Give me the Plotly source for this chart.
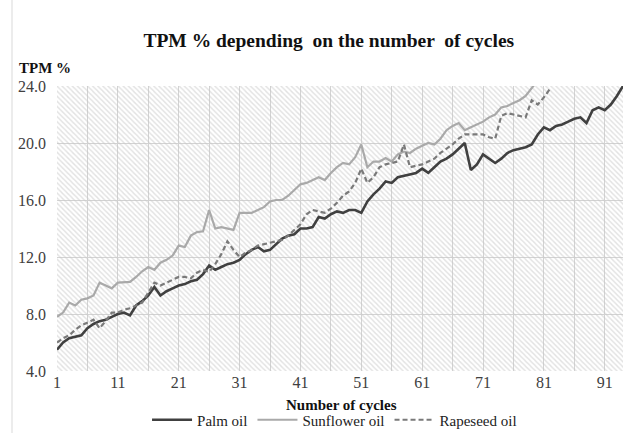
import plotly.graph_objects as go

cycles = list(range(1, 95))

palm_oil = [5.5, 6.0, 6.3, 6.4, 6.5, 7.0, 7.3, 7.5, 7.6, 7.8,
            8.0, 8.1, 7.9, 8.6, 8.9, 9.3, 9.9, 9.3, 9.6, 9.8,
            10.0, 10.1, 10.3, 10.4, 10.8, 11.4, 11.1, 11.3, 11.5, 11.6,
            11.8, 12.2, 12.5, 12.7, 12.4, 12.5, 12.9, 13.3, 13.5, 13.6,
            14.0, 14.0, 14.1, 14.8, 14.7, 15.0, 15.2, 15.1, 15.3, 15.3,
            15.1, 15.9, 16.4, 16.8, 17.3, 17.2, 17.6, 17.7, 17.8, 17.9,
            18.2, 17.9, 18.3, 18.7, 18.9, 19.2, 19.6, 20.0, 18.1, 18.5,
            19.2, 18.9, 18.6, 18.9, 19.3, 19.5, 19.6, 19.7, 19.9, 20.6,
            21.1, 20.9, 21.2, 21.3, 21.5, 21.7, 21.8, 21.4, 22.3, 22.5,
            22.3, 22.7, 23.3, 24.0]

sunflower_oil = [7.8, 8.1, 8.8, 8.6, 9.0, 9.1, 9.3, 10.2, 10.0, 9.8,
                 10.2, 10.2, 10.25, 10.6, 11.0, 11.3, 11.1, 11.6, 11.8, 12.1,
                 12.8, 12.7, 13.5, 13.75, 13.8, 15.3, 14.0, 14.1, 14.0, 13.9,
                 15.1, 15.1, 15.1, 15.3, 15.5, 15.9, 16.0, 16.0, 16.3, 16.7,
                 17.1, 17.2, 17.4, 17.6, 17.4, 17.9, 18.3, 18.6, 18.5, 19.0,
                 19.9, 18.3, 18.7, 18.7, 18.95, 18.7, 19.2, 19.4, 19.3, 19.6,
                 19.8, 20.0, 19.9, 20.3, 20.9, 21.2, 21.4, 20.9, 21.1, 21.3,
                 21.5, 21.8, 22.0, 22.5, 22.6, 22.8, 23.0, 23.3, 23.9, 24.4]

rapeseed_oil = [6.0, 6.3, 6.5, 6.9, 7.2, 7.4, 7.6, 7.0, 7.5, 8.1,
                8.1, 8.3, 8.4, 8.6, 8.8, 9.5, 10.2, 10.0, 10.2, 10.4,
                10.6, 10.6, 10.5, 10.9, 11.1, 10.95, 11.5, 12.2, 13.1, 12.5,
                12.0, 12.3, 12.5, 12.8, 12.9, 13.05, 13.1, 13.2, 13.5, 13.9,
                14.3, 15.0, 15.3, 15.2, 15.1, 15.4, 15.8, 16.3, 16.6, 17.2,
                18.2, 17.2, 17.6, 18.3, 18.5, 18.6, 18.7, 19.9, 18.3, 18.4,
                18.5, 18.7, 18.9, 19.3, 19.6, 19.9, 20.3, 20.6, 20.6, 20.6,
                20.6, 20.4, 20.3, 21.9, 22.1, 22.0, 21.9, 21.8, 23.0, 22.7,
                23.2, 23.8]

x_tick_vals = list(range(1, 95, 10))
y_tick_vals = [4, 8, 12, 16, 20, 24]

X_MIN, X_MAX = 1, 94
Y_MIN, Y_MAX = 4, 24

SERIF = "Liberation Serif, Times New Roman, serif"

fig = go.Figure()

# hatched plot background (transparent between stripes so gridlines show)
fig.add_trace(go.Scatter(
    x=[X_MIN, X_MAX, X_MAX, X_MIN, X_MIN],
    y=[Y_MIN, Y_MIN, Y_MAX, Y_MAX, Y_MIN],
    mode="lines", line=dict(width=0), fill="toself",
    fillcolor="rgba(0,0,0,0)",
    fillpattern=dict(shape="\\", fgcolor="#c6c6c6", bgcolor="rgba(255,255,255,0)",
                     size=3.6, solidity=0.38),
    hoverinfo="skip", showlegend=False,
))

fig.add_trace(go.Scatter(x=cycles[:len(palm_oil)], y=palm_oil, mode="lines", name="Palm oil",
                         line=dict(color="#404040", width=2.6)))
fig.add_trace(go.Scatter(x=cycles[:len(sunflower_oil)], y=sunflower_oil, mode="lines", name="Sunflower oil",
                         line=dict(color="#a9a9a9", width=2.2)))
fig.add_trace(go.Scatter(x=cycles[:len(rapeseed_oil)], y=rapeseed_oil, mode="lines", name="Rapeseed oil",
                         line=dict(color="#7a7a7a", width=2.2, dash="5px,3px")))

fig.update_layout(
    width=636, height=433,
    margin=dict(l=57, r=13, t=86, b=62),
    paper_bgcolor="white", plot_bgcolor="white",
    font=dict(family=SERIF, size=16, color="#404040"),
    title=dict(text="<b>TPM % depending  on the number  of cycles</b>",
               x=0.517, xanchor="center", y=1 - 40 / 433, yanchor="middle", yref="container",
               font=dict(family=SERIF, size=19.5, color="#111111")),
    showlegend=True,
    legend=dict(orientation="h", x=0.526, xanchor="center", xref="container",
                y=1 - 420 / 433, yanchor="middle", yref="container",
                font=dict(family=SERIF, size=15, color="#222222"),
                bgcolor="rgba(0,0,0,0)", itemwidth=40, tracegroupgap=0),
    xaxis=dict(range=[X_MIN, X_MAX], tickmode="array", tickvals=x_tick_vals,
               ticks="", showgrid=True, gridcolor="#d3d3d3", gridwidth=1, automargin=False,
               minor=dict(tick0=1, dtick=5, showgrid=True, gridcolor="#d3d3d3", gridwidth=1, ticks=""),
               zeroline=False, showline=False,
               tickfont=dict(family=SERIF, size=16, color="#404040")),
    yaxis=dict(range=[Y_MIN, Y_MAX], tickmode="array", tickvals=y_tick_vals, automargin=False,
               tickformat=".1f", ticks="", showgrid=True, gridcolor="#d3d3d3", gridwidth=1,
               zeroline=False, showline=False, ticklabelstandoff=10,
               tickfont=dict(family=SERIF, size=16, color="#404040")),
    annotations=[
        dict(text="<b>TPM %</b>", xref="paper", yref="paper", x=-0.0707, y=1.063,
             xanchor="left", yanchor="middle", showarrow=False,
             font=dict(family=SERIF, size=15, color="#111111")),
        dict(text="<b>Number of cycles</b>", xref="paper", yref="paper", x=0.502, y=-0.119,
             xanchor="center", yanchor="middle", showarrow=False,
             font=dict(family=SERIF, size=15, color="#111111")),
    ],
    shapes=[
        dict(type="line", xref="paper", yref="paper", x0=-45 / 566, x1=-45 / 566,
             y0=-62 / 285, y1=(433 - 62) / 285, line=dict(color="#d9d9d9", width=1)),
    ],
)

fig.write_html("out.html", config={"displayModeBar": False},
               post_script="document.body.style.margin='0';document.body.style.overflow='hidden';")
